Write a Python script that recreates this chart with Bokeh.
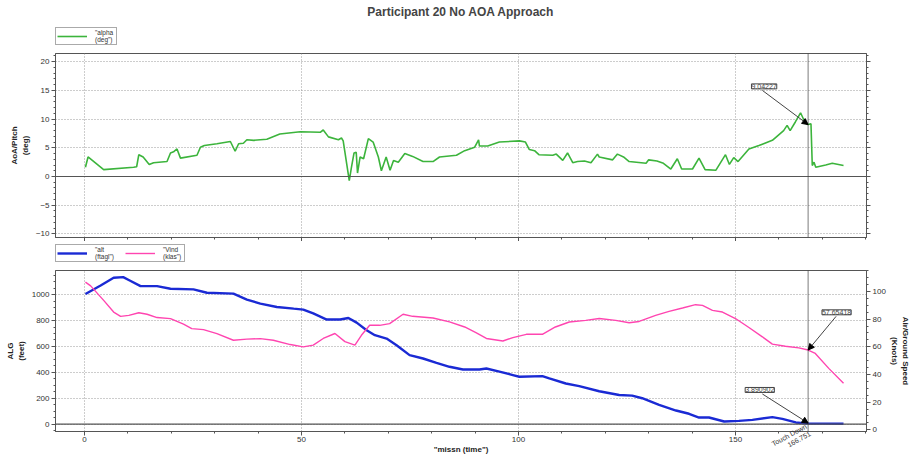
from bokeh.plotting import figure
from bokeh.layouts import column
from bokeh.models import (Range1d, LinearAxis, Legend, LegendItem, Span, Label,
                          Arrow, NormalHead, SingleIntervalTicker, FixedTicker)
from bokeh.embed import file_html
from bokeh.resources import INLINE

# ---------------- data ----------------
alpha_t = [0.2, 0.8, 4.4, 11.3, 12.0, 12.5, 13.5, 14.9, 15.9, 19.0, 19.8, 20.5, 21.3, 22.1,
           25.9, 26.7, 27.6, 30.5, 33.6, 34.7, 35.5, 36.6, 37.4, 39.0, 42.0, 45.0, 49.7,
           54.3, 55.0, 56.2, 58.5, 59.2, 59.6, 61.0, 61.5, 62.1, 62.6, 62.9, 63.5, 64.3,
           65.4, 66.5, 67.7, 68.4, 69.5, 70.4, 71.2, 72.3, 73.8, 75.6, 78.0, 80.3, 81.8,
           85.7, 87.6, 89.9, 90.8, 91.0, 92.9, 95.6, 100.2, 101.6, 102.5, 103.7, 104.7,
           107.9, 108.7, 110.2, 111.3, 112.5, 113.6, 115.2, 116.7, 118.2, 118.6, 121.7,
           122.8, 124.2, 125.5, 129.4, 130.0, 131.9, 133.4, 135.1, 136.6, 137.6, 140.1,
           141.6, 143.0, 145.5, 147.7, 148.6, 149.6, 150.6, 153.1, 155.4, 158.5, 161.1,
           161.9, 162.6, 163.8, 165.0, 165.8, 166.5, 166.75, 167.4, 167.7, 168.1, 168.5,
           170.8, 172.3, 174.9]
alpha_v = [1.6, 3.4, 1.2, 1.6, 1.7, 3.8, 3.4, 2.1, 2.4, 2.6, 4.1, 4.3, 4.8, 3.2,
           3.7, 5.1, 5.4, 5.7, 6.1, 4.4, 5.7, 5.8, 6.4, 6.3, 6.5, 7.4, 7.8,
           7.7, 8.1, 6.9, 6.4, 6.7, 6.2, -0.7, 1.6, 4.1, 4.2, 0.6, 3.4, 3.1,
           6.6, 6.0, 3.4, 1.0, 3.4, 1.1, 2.8, 2.5, 4.0, 3.5, 2.6, 2.6, 3.4,
           3.7, 4.5, 5.1, 6.4, 5.3, 5.3, 6.0, 6.2, 6.0, 4.7, 4.5, 3.8,
           3.7, 3.9, 2.8, 4.1, 2.4, 2.6, 2.7, 2.4, 3.9, 3.4, 2.9,
           3.9, 3.4, 2.6, 2.3, 2.9, 2.7, 2.3, 1.3, 3.1, 1.3, 1.3,
           3.2, 1.2, 1.1, 3.8, 2.1, 3.3, 2.6, 4.8, 5.4, 6.3, 8.0,
           8.9, 8.0, 9.5, 11.1, 9.8, 9.1, 9.04, 9.2, 1.9, 2.5, 1.6,
           2.0, 2.3, 1.9]

alt_t = [0.2, 3.7, 6.7, 8.9, 10.4, 12.9, 16.7, 19.8, 25.1, 28.2, 34.3, 37.4, 40.5, 44.3,
         48.2, 50.4, 52.7, 55.8, 58.9, 60.8, 62.7, 65.0, 66.9, 69.6, 71.9, 74.9, 78.0,
         81.1, 84.1, 87.2, 91.0, 92.6, 95.6, 98.7, 100.2, 105.5, 107.1, 110.9, 114.0,
         118.6, 123.2, 126.2, 128.5, 132.4, 136.3, 139.3, 141.6, 143.9, 147.4, 150.8,
         153.9, 158.5, 160.8, 163.9, 166.75, 170.0, 174.9]
alt_v = [1006, 1071, 1131, 1136, 1110, 1066, 1066, 1046, 1041, 1015, 1008, 962, 931, 905,
         892, 885, 855, 808, 808, 820, 784, 725, 687, 661, 610, 533, 507,
         474, 443, 422, 422, 430, 405, 379, 366, 371, 353, 314, 294,
         254, 225, 220, 200, 148, 105, 80, 51, 51, 20, 25,
         33, 54, 41, 13, 3.89, 3.5, 3.0]

vind_t = [0.2, 1.4, 4.4, 6.7, 8.3, 10.2, 12.5, 14.4, 16.7, 19.8, 22.8, 24.7, 27.4, 30.5,
          34.3, 37.4, 40.5, 43.5, 47.4, 50.4, 52.7, 55.0, 57.7, 60.0, 62.3, 63.8, 65.7,
          68.0, 70.3, 73.4, 75.6, 80.3, 84.1, 87.6, 90.3, 92.6, 96.4, 98.7, 101.8, 105.5,
          108.5, 111.7, 115.5, 118.6, 122.4, 125.5, 127.8, 131.6, 134.7, 137.8, 140.8,
          142.4, 144.7, 147.0, 150.0, 153.1, 156.2, 158.5, 161.5, 164.6, 166.75, 168.4,
          171.5, 174.9]
vind_v = [106.7, 104, 93.5, 85.1, 82, 82.7, 84.6, 83.5, 81.1, 80.3, 76.3, 73.1, 72.4, 69.5,
          64.7, 65.5, 65.9, 64.7, 61.6, 59.9, 61.2, 66, 69.6, 63.7, 61.2, 68.3, 75.5,
          75.5, 76.7, 83.5, 82.0, 80.8, 78, 74.3, 70, 66, 64.2, 66.6, 69, 69,
          74.3, 77.9, 79.1, 80.4, 79.1, 77.4, 78.3, 82.7, 85.6, 88, 90.4,
          89.9, 86.3, 85.1, 80.4, 73.9, 67.2, 61.9, 60.4, 59.2, 57.65, 55.2,
          44.4, 33.6]

touchdown_t = 166.751
alpha_td, alt_td, vind_td = 9.04227, 3.890902, 57.65418

title_text = "Participant 20 No AOA Approach"
x_label = '"missn (time")'
top_ylabel = "AoA/Pitch\n(deg)"
bot_ylabel = "ALG\n(feet)"
right_ylabel = "Air/Ground Speed\n(Knots)"
alpha_name = '"alpha\n(deg")'
alt_name = '"alt\n(ftagl")'
vind_name = '"Vind\n(klas")'

FONT = "Liberation Sans"
GREEN = "#3cb43c"
BLUE = "#1a2ad4"
PINK = "#ff45b0"
GRID = "#9a9a9a"
DARK = "#555555"

W = 912
LEFT_B, RIGHT_B = 55, 44
PX_PER_UNIT = 4.35
FRAME_W = W - LEFT_B - RIGHT_B
X0 = -6.7
X1 = X0 + FRAME_W / PX_PER_UNIT


def style_axis(ax, ticker=None, hide_labels=False):
    if ticker is not None:
        ax.ticker = ticker
    ax.axis_line_color = DARK
    ax.major_tick_line_color = DARK
    ax.minor_tick_line_color = DARK
    ax.major_tick_out = 4
    ax.major_tick_in = 0
    ax.minor_tick_out = 2
    ax.minor_tick_in = 0
    ax.major_label_text_font = FONT
    ax.major_label_text_font_size = "8px"
    ax.major_label_text_color = "#333333"
    ax.major_label_standoff = 2
    ax.axis_label_text_font = FONT
    ax.axis_label_text_font_size = "8px"
    ax.axis_label_text_font_style = "bold"
    ax.axis_label_text_color = "#222222"
    ax.axis_label_standoff = 3
    if hide_labels:
        ax.major_label_text_font_size = "1px"
        ax.major_label_text_alpha = 0
        ax.major_label_standoff = 0


def style_fig(p):
    p.outline_line_color = DARK
    p.outline_line_width = 1
    p.background_fill_color = "white"
    p.border_fill_color = "white"
    for g in (p.xgrid, p.ygrid):
        g.grid_line_color = GRID
        g.grid_line_dash = "1 2"
        g.grid_line_width = 1


def legend_strip(height, border_top, specs, title=None):
    s = figure(width=W, height=height, x_range=Range1d(0, 1), y_range=Range1d(0, 1),
               x_axis_location=None, y_axis_location=None,
               output_backend="svg", toolbar_location=None,
               min_border_left=LEFT_B, min_border_right=RIGHT_B,
               min_border_top=border_top, min_border_bottom=0, title=title)
    s.outline_line_color = None
    s.xgrid.visible = False
    s.ygrid.visible = False
    s.background_fill_color = "white"
    s.border_fill_color = "white"
    items = []
    for name, color, lw in specs:
        # legend key only: the stroke lies outside this strip's visible range
        r = s.line([-5, -4], [-5, -5], line_color=color, line_width=lw)
        items.append(LegendItem(label=name, renderers=[r]))
    s.add_layout(Legend(items=items, orientation="horizontal", location="bottom_left",
                        label_text_font=FONT, label_text_font_size="6.5px",
                        label_text_color="#333333", label_text_line_height=1.0,
                        label_standoff=8, glyph_width=30, glyph_height=8,
                        spacing=10, padding=1, margin=0,
                        border_line_color=DARK, border_line_width=1))
    return s


# ---------------- title + first legend ----------------
strip1 = legend_strip(45, 20, [(alpha_name, GREEN, 1.6)], title=title_text)
strip1.title.text_font = FONT
strip1.title.text_font_size = "12px"
strip1.title.text_font_style = "bold"
strip1.title.align = "center"
strip1.title.standoff = 4

# ---------------- top panel ----------------
top = figure(width=W, height=196,
             x_range=Range1d(X0, X1), y_range=Range1d(-10.63, 21.43),
             output_backend="svg", toolbar_location=None,
             min_border_left=LEFT_B, min_border_right=RIGHT_B, min_border_top=8,
             min_border_bottom=4)
style_fig(top)
style_axis(top.xaxis[0], SingleIntervalTicker(interval=50, num_minor_ticks=5), hide_labels=True)
style_axis(top.yaxis[0], SingleIntervalTicker(interval=5, num_minor_ticks=5))
top.yaxis[0].axis_label = top_ylabel
rax_top = LinearAxis()
style_axis(rax_top, SingleIntervalTicker(interval=5, num_minor_ticks=5), hide_labels=True)
top.add_layout(rax_top, "right")

top.add_layout(Span(location=0, dimension="width", line_color=DARK, line_width=1.2))
top.add_layout(Span(location=touchdown_t, dimension="height", line_color="#444444",
                    line_width=1.4, line_dash="1 1"))
top.line(alpha_t, alpha_v, line_color=GREEN, line_width=1.6)

top.add_layout(Arrow(end=NormalHead(size=6, fill_color="black", line_color="black"),
                     x_start=156.2, y_start=15.0, x_end=touchdown_t, y_end=alpha_td,
                     line_color="#444444", line_width=1))
top.add_layout(Label(x=156.6, y=15.7, text=f"{alpha_td}", text_font=FONT,
                     text_font_size="7px", text_align="center", text_baseline="middle",
                     border_line_color="#444444", background_fill_color="white"))

# ---------------- second legend ----------------
strip2 = legend_strip(21, 0, [(alt_name, BLUE, 2.4), (vind_name, PINK, 1.4)])

# ---------------- bottom panel ----------------
bot = figure(width=W, height=195,
             x_range=top.x_range, y_range=Range1d(-57, 1187),
             output_backend="svg", toolbar_location=None,
             min_border_left=LEFT_B, min_border_right=RIGHT_B, min_border_top=8,
             min_border_bottom=20)
style_fig(bot)
bot.extra_y_ranges = {"spd": Range1d(-1.2, 115.1)}
style_axis(bot.xaxis[0], SingleIntervalTicker(interval=50, num_minor_ticks=5))
bot.xaxis[0].major_label_standoff = 1
style_axis(bot.yaxis[0], SingleIntervalTicker(interval=200, num_minor_ticks=4))
bot.yaxis[0].axis_label = bot_ylabel
rax = LinearAxis(y_range_name="spd", axis_label=right_ylabel)
style_axis(rax, SingleIntervalTicker(interval=20, num_minor_ticks=4))
rax.axis_label_standoff = 1
bot.add_layout(rax, "right")

# outer bottom axis: carries the touchdown marker label and the axis title,
# pulled up so that it shares the row of the time tick labels
td_axis = LinearAxis(ticker=FixedTicker(ticks=[touchdown_t], minor_ticks=[]),
                     major_label_overrides={touchdown_t: f"Touch Down\n{touchdown_t}"},
                     major_label_orientation=0.5,
                     axis_line_color=None, major_tick_line_color=None,
                     minor_tick_line_color=None, major_tick_out=0, major_tick_in=0,
                     minor_tick_out=0, minor_tick_in=0,
                     major_label_standoff=-15, major_label_text_font=FONT,
                     major_label_text_font_size="7px", major_label_text_color="#333333",
                     axis_label=x_label, axis_label_standoff=-19,
                     axis_label_text_font=FONT, axis_label_text_font_size="8px",
                     axis_label_text_font_style="bold", axis_label_text_color="#222222")
bot.add_layout(td_axis, "below")

bot.add_layout(Span(location=0, dimension="width", line_color=DARK, line_width=1.2))
bot.add_layout(Span(location=touchdown_t, dimension="height", line_color="#444444",
                    line_width=1.4, line_dash="1 1"))
bot.line(alt_t, alt_v, line_color=BLUE, line_width=2.4)
bot.line(vind_t, vind_v, line_color=PINK, line_width=1.4, y_range_name="spd")

bot.add_layout(Arrow(end=NormalHead(size=6, fill_color="black", line_color="black"),
                     x_start=156.2, y_start=233, x_end=touchdown_t, y_end=8,
                     line_color="#444444", line_width=1))
bot.add_layout(Label(x=155.6, y=264, text=f"{alt_td}", text_font=FONT,
                     text_font_size="7px", text_align="center", text_baseline="middle",
                     border_line_color="#444444", background_fill_color="white"))
bot.add_layout(Arrow(end=NormalHead(size=6, fill_color="black", line_color="black"),
                     x_start=173.2, y_start=82, x_end=touchdown_t, y_end=vind_td,
                     line_color="#444444", line_width=1, y_range_name="spd"))
bot.add_layout(Label(x=173.3, y=84.9, text=f"{vind_td}", text_font=FONT,
                     text_font_size="7px", text_align="center", text_baseline="middle",
                     border_line_color="#444444", background_fill_color="white",
                     y_range_name="spd"))

layout = column(strip1, top, strip2, bot, spacing=0)
open("out.html", "w").write(file_html(layout, INLINE))
